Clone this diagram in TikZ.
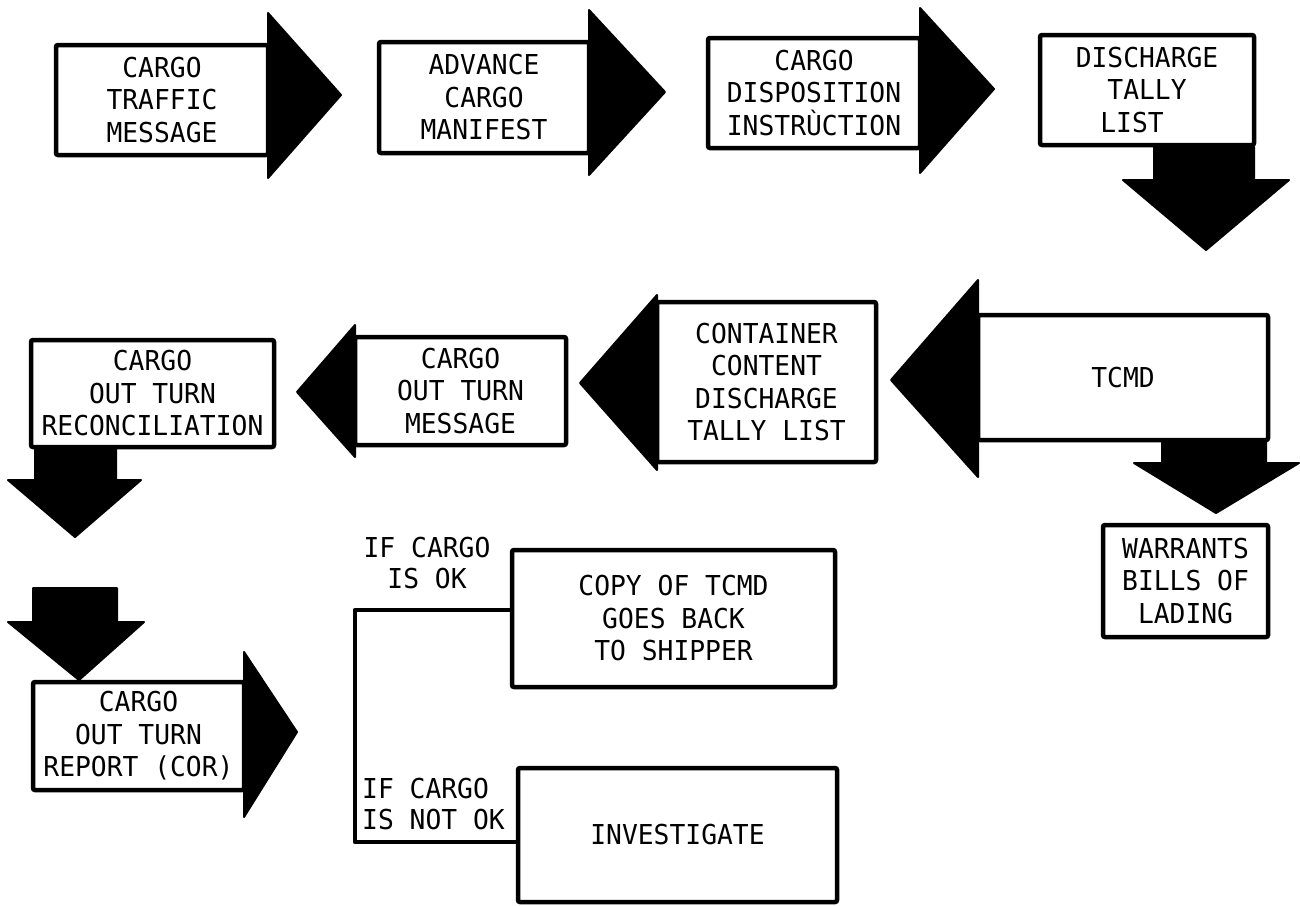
\documentclass[tikz,border=0pt]{standalone}
\usepackage{fontspec}
\newfontfamily\plotfont[FakeStretch=0.96]{DejaVu Sans Mono}
\usetikzlibrary{calc}
\begin{document}
\begin{tikzpicture}[x=1pt,y=-1pt,
  box/.style={draw=black, line width=4.5pt, rounded corners=2pt, fill=white,
    inner sep=0pt, outer sep=0pt, align=center,
    font=\plotfont\fontsize{27.4}{32.5}\selectfont},
  lbl/.style={inner sep=0pt, font=\plotfont\fontsize{27.4}{31}\selectfont},
  blk/.style={fill=black, draw=black, line width=2pt, line join=round},
  conn/.style={draw=black, line width=4.5pt, line join=round}]
\fill[white] (0,0) rectangle (1300,905);
\useasboundingbox (0,0) rectangle (1300,905);

% boxes
\node[box, minimum width=212pt, minimum height=110pt] (b1) at (162,100) {CARGO\\TRAFFIC\\MESSAGE};
\node[box, minimum width=210pt, minimum height=111pt] (b2) at (484,97.5) {ADVANCE\\CARGO\\MANIFEST};
\node[box, minimum width=212pt, minimum height=110pt] (b3) at (814,93) {CARGO\\DISPOSITION\\INSTRÙCTION};
\node[box, minimum width=214pt, minimum height=110pt] (b4) at (1147,90) {DISCHARGE\\TALLY\\LIST\hspace*{30pt}};
\node[box, minimum width=290pt, minimum height=125pt] (tcmd) at (1123,377.5) {TCMD};
\node[box, minimum width=219pt, minimum height=160pt] (cont) at (766.5,382) {CONTAINER\\CONTENT\\DISCHARGE\\TALLY LIST};
\node[box, minimum width=211pt, minimum height=108pt] (msg) at (460.5,391) {CARGO\\OUT TURN\\MESSAGE};
\node[box, minimum width=243pt, minimum height=107pt] (rec) at (152.5,393.5) {CARGO\\OUT TURN\\RECONCILIATION};
\node[box, minimum width=165pt, minimum height=112pt] (war) at (1185.5,581) {WARRANTS\\BILLS OF\\LADING};
\node[box, minimum width=211pt, minimum height=108pt] (cor) at (138.5,736) {CARGO\\OUT TURN\\REPORT (COR)};
\node[box, minimum width=323pt, minimum height=137pt] (copy) at (673.5,618.5) {COPY OF TCMD\\GOES BACK\\TO SHIPPER};
\node[box, minimum width=319pt, minimum height=134pt] (inv) at (677.5,835) {INVESTIGATE};

% right-pointing arrowheads
\filldraw[blk] (268,13) -- (341,95) -- (268,178) -- cycle;
\filldraw[blk] (589,10) -- (665,92) -- (589,175) -- cycle;
\filldraw[blk] (920,8) -- (994,89) -- (920,173) -- cycle;
\filldraw[blk] (244,652) -- (297,732) -- (244,817) -- cycle;

% left-pointing arrowheads
\filldraw[blk] (978,280) -- (891,380) -- (978,477) -- cycle;
\filldraw[blk] (657,295) -- (580,383) -- (657,470) -- cycle;
\filldraw[blk] (355,325) -- (297,392) -- (355,457) -- cycle;

% down arrows
\filldraw[blk] (1154,147) -- (1254,147) -- (1254,180) -- (1289,180) -- (1206,250) -- (1123,180) -- (1154,180) -- cycle;
\filldraw[blk] (1162,442) -- (1266,442) -- (1266,463) -- (1299,463) -- (1216,513) -- (1134,463) -- (1162,463) -- cycle;
\filldraw[blk] (35,449) -- (116,449) -- (116,480) -- (141,480) -- (75,537) -- (8,480) -- (35,480) -- cycle;
\filldraw[blk] (33,588) -- (117,588) -- (117,622) -- (144,622) -- (79,680) -- (8,622) -- (33,622) -- cycle;

% decision bracket
\coordinate (bt) at (355,610);
\coordinate (bb) at (355,842);
\draw[conn] (copy.west |- bt) -- (bt) -- (bb) -- (inv.west |- bb);

% labels
\node[lbl, align=center] (ok) at (427,563) {IF CARGO\\IS OK};
\node[lbl, align=left, anchor=west] (nok) at (362,804) {IF CARGO\\IS NOT OK};
\end{tikzpicture}
\end{document}
